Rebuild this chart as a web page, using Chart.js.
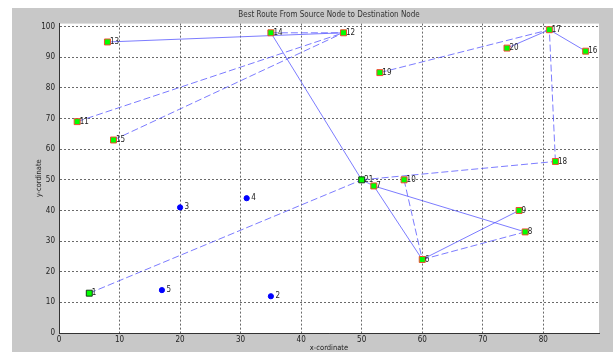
<!DOCTYPE html>
<html>
<head>
<meta charset="utf-8">
<script src="https://cdn.jsdelivr.net/npm/chart.js@4"></script>
<style>
  html, body { margin: 0; padding: 0; background: #fff; }
</style>
</head>
<body>
<canvas id="routeChart" width="613" height="352"></canvas>
<script>
// node coordinates (node i is at index i-1)
const nodeIds = [1, 2, 3, 4, 5, 6, 7, 8, 9, 10, 11, 12, 13, 14, 15, 16, 17, 18, 19, 20, 21];
const nodeX   = [5, 35, 20, 31, 17, 60, 52, 77, 76, 57, 3, 47, 8, 35, 9, 87, 81, 82, 53, 74, 50];
const nodeY   = [13, 12, 41, 44, 14, 24, 48, 33, 40, 50, 69, 98, 95, 98, 63, 92, 99, 56, 85, 93, 50];

// nodes drawn as blue dots (not on any route)
const plainNodes = [2, 3, 4, 5];
// nodes with the dark edge instead of red
const darkEdgeNodes = [1, 21];

// route segments
const solidEdges  = [[21, 14], [13, 12], [21, 7], [7, 8], [7, 6], [6, 9], [17, 16], [20, 17]];
const dashedEdges = [[1, 21], [14, 12], [11, 12], [15, 12], [21, 18], [18, 17], [19, 17], [10, 6], [6, 8]];

const xTicks = [0, 10, 20, 30, 40, 50, 60, 70, 80];
const yTicks = [0, 10, 20, 30, 40, 50, 60, 70, 80, 90, 100];

const FONT = '"Liberation Sans Narrow", "DejaVu Sans Condensed", "Liberation Sans", sans-serif';
const LINE_COLOR = 'rgba(80,80,255,0.75)';

function pt(id) {
  return { x: nodeX[id - 1], y: nodeY[id - 1] };
}

function edgeDataset(edge, dash) {
  return {
    data: [pt(edge[0]), pt(edge[1])],
    showLine: true,
    borderColor: LINE_COLOR,
    borderWidth: 1,
    borderDash: dash,
    pointRadius: 0,
    order: 2
  };
}

const routeIds = nodeIds.filter(id => !plainNodes.includes(id));

const datasets = [];
solidEdges.forEach(e => datasets.push(edgeDataset(e, [])));
dashedEdges.forEach(e => datasets.push(edgeDataset(e, [7, 3])));

datasets.push({
  data: routeIds.map(pt),
  pointStyle: 'rect',
  pointRadius: 4.2,
  backgroundColor: '#00ff00',
  borderColor: routeIds.map(id => darkEdgeNodes.includes(id) ? '#1a3a1a' : '#f04a30'),
  borderWidth: 1,
  order: 0
});
datasets.push({
  data: plainNodes.map(pt),
  pointStyle: 'circle',
  pointRadius: 2.6,
  backgroundColor: '#0000ff',
  borderColor: '#0000ff',
  borderWidth: 1,
  order: 0
});

// grey figure + white axes box
const figureBg = {
  id: 'figureBg',
  beforeDraw(chart) {
    const { ctx, chartArea: a } = chart;
    ctx.save();
    ctx.fillStyle = '#c8c8c8';
    ctx.fillRect(12, 8, chart.width - 12, chart.height - 8);
    ctx.fillStyle = '#ffffff';
    ctx.fillRect(a.left, a.top, a.right - a.left, a.bottom - a.top);
    ctx.restore();
  }
};

// number next to every node
const nodeLabels = {
  id: 'nodeLabels',
  afterDatasetsDraw(chart) {
    const { ctx, scales: { x, y } } = chart;
    ctx.save();
    ctx.font = '8px ' + FONT;
    ctx.fillStyle = '#222';
    ctx.textBaseline = 'middle';
    nodeIds.forEach((id, i) => {
      const off = plainNodes.includes(id) ? 4.5 : 2.5;
      ctx.fillText(String(id), x.getPixelForValue(nodeX[i]) + off, y.getPixelForValue(nodeY[i]));
    });
    ctx.restore();
  }
};

new Chart(document.getElementById('routeChart'), {
  type: 'scatter',
  data: { datasets: datasets },
  options: {
    responsive: false,
    animation: false,
    layout: { padding: { left: 0, right: 14, top: 0, bottom: 0 } },
    plugins: {
      legend: { display: false },
      tooltip: { enabled: false },
      title: {
        display: true,
        text: 'Best Route From Source Node to Destination Node',
        fullSize: false,
        color: '#333',
        font: { family: FONT, size: 8, weight: 'normal' },
        padding: { top: 10, bottom: 4 }
      }
    },
    scales: {
      x: {
        type: 'linear',
        min: 0,
        max: 89.2,
        afterBuildTicks: s => { s.ticks = xTicks.map(v => ({ value: v })); },
        afterFit: s => { s.height = 19; },
        grid: { color: '#6a6a6a', lineWidth: 1, drawTicks: false },
        border: { display: true, color: '#333', width: 1, dash: [2, 2] },
        ticks: { color: '#222', padding: 2, maxRotation: 0, font: { family: FONT, size: 8 } },
        title: {
          display: true,
          text: 'x-cordinate',
          color: '#222',
          font: { family: FONT, size: 7.5, lineHeight: 1 },
          padding: { top: 0, bottom: 0 }
        }
      },
      y: {
        type: 'linear',
        min: 0,
        max: 101,
        afterBuildTicks: s => { s.ticks = yTicks.map(v => ({ value: v })); },
        afterFit: s => { s.width = 59; },
        grid: { color: '#6a6a6a', lineWidth: 1, drawTicks: false },
        border: { display: true, color: '#333', width: 1, dash: [2, 2] },
        ticks: { color: '#222', padding: 4, font: { family: FONT, size: 8 } },
        title: {
          display: true,
          text: 'y-cordinate',
          color: '#222',
          font: { family: FONT, size: 7.5, lineHeight: 1 },
          padding: { top: 35, bottom: 0 }
        }
      }
    }
  },
  plugins: [figureBg, nodeLabels]
});
</script>
</body>
</html>
